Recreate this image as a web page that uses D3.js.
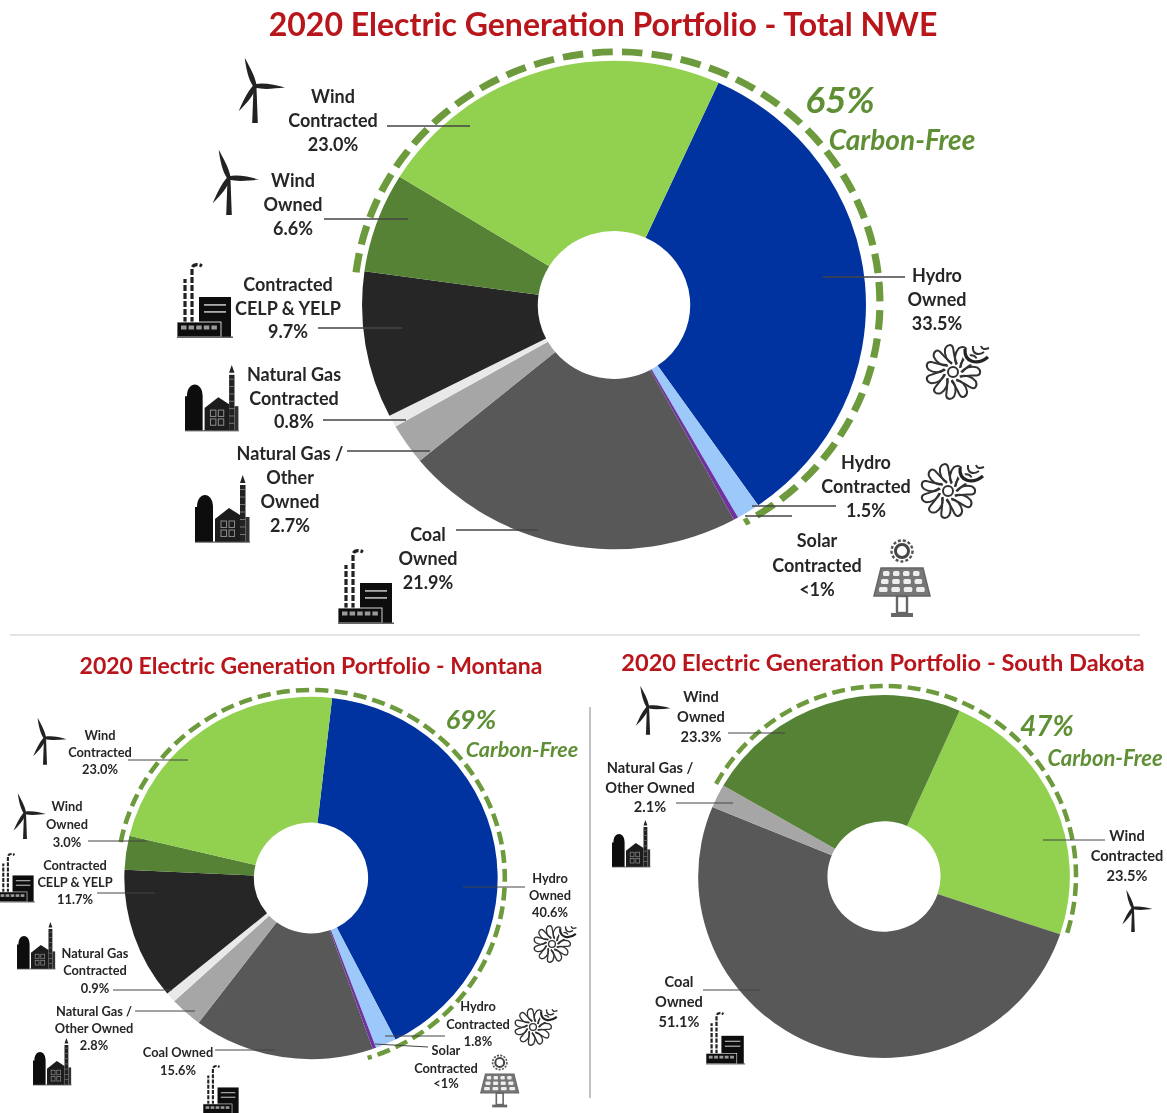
<!DOCTYPE html>
<html>
<head>
<meta charset="utf-8">
<script src="https://cdn.jsdelivr.net/npm/d3@7"></script>
<style>
  html, body { margin: 0; padding: 0; background: #fff; }
  svg { display: block; }
  text { font-family: Lato, "Open Sans", sans-serif; font-weight: 700; }
</style>
</head>
<body>
<div id="chart"></div>
<script>
// Slice values, in percent, clockwise from the top right of each donut
var nweNames = ["Hydro Owned", "Hydro Contracted", "Solar Contracted", "Coal Owned", "Natural Gas / Other Owned", "Natural Gas Contracted", "Contracted CELP & YELP", "Wind Owned", "Wind Contracted"];
var nweValues = [33.5, 1.5, 0.3, 21.9, 2.7, 0.8, 9.7, 6.6, 23.0];
var nweColors = ["#0033a0", "#9dc8fa", "#7030a0", "#595959", "#a6a6a6", "#e9e9e9", "#262626", "#548235", "#92d050"];

var montanaNames = ["Hydro Owned", "Hydro Contracted", "Solar Contracted", "Coal Owned", "Natural Gas / Other Owned", "Natural Gas Contracted", "Contracted CELP & YELP", "Wind Owned", "Wind Contracted"];
var montanaValues = [40.6, 1.8, 0.3, 15.6, 2.8, 0.9, 11.7, 3.0, 23.0];
var montanaColors = nweColors;

var dakotaNames = ["Wind Contracted", "Coal Owned", "Natural Gas / Other Owned", "Wind Owned"];
var dakotaValues = [23.5, 51.1, 2.1, 23.3];
var dakotaColors = ["#92d050", "#595959", "#a6a6a6", "#548235"];

var titles = ["2020 Electric Generation Portfolio - Total NWE", "2020 Electric Generation Portfolio - Montana", "2020 Electric Generation Portfolio - South Dakota"];
var carbonFree = ["65%", "69%", "47%"];

var svgWidth = 1167;
var svgHeight = 1113;
var red = "#b9141c";
var green = "#5f8f35";
var ink = "#262626";

var svg = d3.select("#chart").append("svg")
    .attr("width", svgWidth)
    .attr("height", svgHeight);

// The source is a soft, slightly blurred scan
var defs = svg.append("defs");
defs.append("filter").attr("id", "soft")
    .attr("x", "-5%").attr("y", "-5%").attr("width", "110%").attr("height", "110%")
    .append("feGaussianBlur").attr("stdDeviation", 0.55);

var root = svg.append("g").attr("filter", "url(#soft)");
root.append("rect").attr("width", svgWidth).attr("height", svgHeight).attr("fill", "#fff");

// Draws one donut with its dashed carbon-free ring
function drawDonut(opt) {
    var pie = d3.pie().sort(null)
        .startAngle(opt.start * Math.PI / 180)
        .endAngle((opt.start + 360) * Math.PI / 180);
    var arc = d3.arc().innerRadius(opt.inner).outerRadius(opt.r);

    var g = root.append("g")
        .attr("transform", "translate(" + opt.cx + "," + opt.cy + ") scale(" + opt.sx + "," + opt.sy + ")");

    g.selectAll("path.slice")
        .data(pie(opt.values))
        .enter()
        .append("path")
        .attr("class", "slice")
        .attr("d", arc)
        .attr("fill", function(d, i) { return opt.colors[i]; });

    // open arc, so the dash pattern is not drawn twice
    var ring = d3.path();
    ring.arc(0, 0, opt.ringR, (opt.ringFrom - 90) * Math.PI / 180, (opt.ringTo - 90) * Math.PI / 180);

    root.append("path")
        .attr("transform", "translate(" + opt.ringCx + "," + opt.ringCy + ") scale(" + opt.ringSx + "," + opt.ringSy + ")")
        .attr("d", ring.toString())
        .attr("fill", "none")
        .attr("stroke", "#6d9a3c")
        .attr("stroke-width", opt.ringWidth)
        .attr("stroke-dasharray", opt.dash);
}

function drawText(t, x, y, size, fill, italic) {
    root.append("text")
        .attr("x", x)
        .attr("y", y)
        .attr("text-anchor", "middle")
        .attr("dominant-baseline", "central")
        .attr("font-size", size)
        .attr("font-style", italic ? "italic" : "normal")
        .attr("fill", fill)
        .text(t);
}

// Multi line, centred label with a thin leader line
function drawLabel(l, size) {
    l.lines.forEach(function(t, i) {
        drawText(t, l.x, l.ys[i], size, ink, false);
    });
    root.append("line")
        .attr("x1", l.lead[0]).attr("y1", l.lead[1])
        .attr("x2", l.lead[2]).attr("y2", l.lead[3])
        .attr("stroke", "#444")
        .attr("stroke-width", size > 15 ? 1.3 : 1);
}

// ---- icons, all drawn around a local origin and scaled into place ----
function iconWind(x, y, k) {
    var g = root.append("g").attr("transform", "translate(" + x + "," + y + ") scale(" + k + ")").attr("fill", "#222");
    g.append("path").attr("d", "M-1.5,2 L1.5,2 L2.8,37 L-2.8,37 Z");
    [-20, 93, 213].forEach(function(a) {
        g.append("path")
            .attr("transform", "rotate(" + a + ")")
            .attr("d", "M-1.8,0 C-4,-8 -2.4,-20 0,-30 C1.4,-20 3.4,-10 1.8,0 Z");
    });
}

function iconFactory(x, y, k) {
    var g = root.append("g").attr("transform", "translate(" + x + "," + y + ") scale(" + k + ")");
    g.append("path").attr("d", "M8,60 V16 M15,60 V6 C15,2 20,0 25,3")
        .attr("fill", "none").attr("stroke", "#222").attr("stroke-width", 3.2).attr("stroke-dasharray", "6 2");
    g.append("rect").attr("x", 22).attr("y", 34).attr("width", 32).attr("height", 40).attr("fill", "#111");
    g.append("rect").attr("x", 0).attr("y", 59).attr("width", 44).attr("height", 15).attr("fill", "#111").attr("stroke", "#fff").attr("stroke-width", 0.8);
    d3.range(5).forEach(function(i) {
        g.append("rect").attr("x", 4 + i * 7.6).attr("y", 62.5).attr("width", 5.5).attr("height", 4).attr("fill", "#999");
    });
    [41, 48].forEach(function(yy) {
        g.append("rect").attr("x", 27).attr("y", yy).attr("width", 22).attr("height", 1.8).attr("fill", "#aaa");
    });
    g.append("rect").attr("x", 0).attr("y", 73.5).attr("width", 56).attr("height", 1.4).attr("fill", "#555");
}

function iconGas(x, y, k) {
    var g = root.append("g").attr("transform", "translate(" + x + "," + y + ") scale(" + k + ")");
    g.append("path").attr("d", "M0,67 V32 H2 C2,16 18,16 18,32 V67 Z").attr("fill", "#0c0c0c");
    g.append("path").attr("d", "M20,67 V44 L34,33 L45,40 V67 Z").attr("fill", "#1a1a1a");
    d3.range(2).forEach(function(r) {
        d3.range(2).forEach(function(c) {
            g.append("rect").attr("x", 26 + c * 8).attr("y", 46 + r * 9).attr("width", 5.5).attr("height", 6.5)
                .attr("fill", "none").attr("stroke", "#888").attr("stroke-width", 1.1);
        });
    });
    g.append("rect").attr("x", 45).attr("y", 10).attr("width", 5.5).attr("height", 57).attr("fill", "#222");
    g.append("rect").attr("x", 50.5).attr("y", 42).attr("width", 4).attr("height", 25).attr("fill", "#333");
    d3.range(7).forEach(function(i) {
        g.append("rect").attr("x", 45).attr("y", 14 + i * 7.5).attr("width", 5.5).attr("height", 1).attr("fill", "#777");
    });
    g.append("path").attr("d", "M47.7,0 L50.5,8 H45 Z").attr("fill", "#222");
    g.append("rect").attr("x", 0).attr("y", 66.5).attr("width", 55).attr("height", 1.2).attr("fill", "#555");
}

function iconHydro(x, y, k) {
    var g = root.append("g").attr("transform", "translate(" + x + "," + y + ") scale(" + k + ")")
        .attr("fill", "none").attr("stroke", "#333").attr("stroke-width", 2);
    g.append("circle").attr("r", 5);
    d3.range(11).forEach(function(i) {
        g.append("path")
            .attr("transform", "rotate(" + i * 360 / 11 + ")")
            .attr("d", "M-1,-8 C-6,-11 -9,-17 -8,-23 C-6,-28 -1,-28 0,-24 C1,-20 1,-14 4,-8");
    });
    g.append("path").attr("d", "M12,-23 C11,-10 24,-6 35,-15").attr("stroke", "#fff").attr("stroke-width", 7);
    g.append("path").attr("d", "M12,-23 C11,-10 24,-6 35,-15").attr("stroke-width", 3.2).attr("stroke", "#222");
    g.append("path").attr("d", "M20,-26 C19,-18 25,-16 31,-20 M28,-26 C29,-23 31,-22 36,-24").attr("stroke-width", 2);
}

function iconSolar(x, y, k) {
    var g = root.append("g").attr("transform", "translate(" + x + "," + y + ") scale(" + k + ")");
    g.append("circle").attr("cx", 29).attr("cy", 11).attr("r", 6.5).attr("fill", "none").attr("stroke", "#444").attr("stroke-width", 3);
    g.append("circle").attr("cx", 29).attr("cy", 11).attr("r", 10.5).attr("fill", "none").attr("stroke", "#555").attr("stroke-width", 2.4).attr("stroke-dasharray", "3 2");
    g.append("path").attr("d", "M8,28 H50 L57,56 H1 Z").attr("fill", "#777").attr("stroke", "#666").attr("stroke-width", 1.5);
    d3.range(3).forEach(function(r) {
        d3.range(4).forEach(function(c) {
            g.append("rect").attr("x", 10 - r * 2 + c * (10 + r * 1.2)).attr("y", 31 + r * 8).attr("width", 6.5 + r).attr("height", 5)
                .attr("fill", "#eee").attr("rx", 1.5);
        });
    });
    g.append("rect").attr("x", 24).attr("y", 56).attr("width", 10).attr("height", 17).attr("fill", "none").attr("stroke", "#666").attr("stroke-width", 2.4);
    g.append("rect").attr("x", 18).attr("y", 73).attr("width", 22).attr("height", 4).attr("fill", "#666");
}

// ---- Total NWE ----
drawDonut({ cx: 614, cy: 305, r: 248, inner: 75, sx: 1.016, sy: 0.985, start: 24.5, values: nweValues, colors: nweColors,
    ringCx: 617, ringCy: 303, ringR: 257, ringSx: 1.023, ringSy: 0.977, ringFrom: -83, ringTo: 151, ringWidth: 7, dash: "20 9" });

drawText(titles[0], 603, 23, 32, red, false);
drawText(carbonFree[0], 840, 98, 37, green, true);
drawText("Carbon-Free", 902, 139, 28, green, true);

var nweLabels = [
    { lines: ["Wind", "Contracted", "23.0%"], x: 333, ys: [96, 120, 144], lead: [387, 126, 470, 126] },
    { lines: ["Wind", "Owned", "6.6%"], x: 293, ys: [180, 204, 228], lead: [324, 219, 408, 219] },
    { lines: ["Contracted", "CELP & YELP", "9.7%"], x: 288, ys: [284, 308, 331], lead: [318, 328, 402, 328] },
    { lines: ["Natural Gas", "Contracted", "0.8%"], x: 294, ys: [374, 398, 421], lead: [323, 420, 406, 420] },
    { lines: ["Natural Gas /", "Other", "Owned", "2.7%"], x: 290, ys: [453, 477, 501, 525], lead: [347, 451, 430, 451] },
    { lines: ["Coal", "Owned", "21.9%"], x: 428, ys: [534, 558, 582], lead: [456, 530, 538, 530] },
    { lines: ["Hydro", "Owned", "33.5%"], x: 937, ys: [275, 299, 323], lead: [823, 277, 905, 277] },
    { lines: ["Hydro", "Contracted", "1.5%"], x: 866, ys: [462, 486, 510], lead: [752, 506, 836, 506] },
    { lines: ["Solar", "Contracted", "<1%"], x: 817, ys: [540, 565, 589], lead: [745, 516, 792, 516] }
];
nweLabels.forEach(function(l) { drawLabel(l, 18); });

iconWind(255, 86, 1);
iconWind(229, 178, 1);
iconFactory(177, 263, 1);
iconGas(185, 365, 0.98);
iconGas(195, 475, 1);
iconFactory(338, 549, 1);
iconHydro(953, 372, 1);
iconHydro(948, 491, 1);
iconSolar(873, 540, 1);

// ---- Montana ----
drawDonut({ cx: 311, cy: 878, r: 183, inner: 56, sx: 1.02, sy: 0.99, start: 6.5, values: montanaValues, colors: montanaColors,
    ringCx: 311, ringCy: 878, ringR: 190, ringSx: 1.02, ringSy: 0.99, ringFrom: -79, ringTo: 163, ringWidth: 4.5, dash: "13 6" });

drawText(titles[1], 311, 665, 23, red, false);
drawText(carbonFree[1], 471, 718, 27, green, true);
drawText("Carbon-Free", 522, 749, 21.5, green, true);

var montanaLabels = [
    { lines: ["Wind", "Contracted", "23.0%"], x: 100, ys: [735, 752, 769], lead: [128, 760, 188, 760] },
    { lines: ["Wind", "Owned", "3.0%"], x: 67, ys: [806, 824, 842], lead: [88, 841, 146, 841] },
    { lines: ["Contracted", "CELP & YELP", "11.7%"], x: 75, ys: [865, 882, 899], lead: [97, 893, 155, 893] },
    { lines: ["Natural Gas", "Contracted", "0.9%"], x: 95, ys: [953, 970, 988], lead: [113, 990, 172, 990] },
    { lines: ["Natural Gas /", "Other Owned", "2.8%"], x: 94, ys: [1011, 1028, 1045], lead: [135, 1011, 195, 1011] },
    { lines: ["Coal Owned", "15.6%"], x: 178, ys: [1052, 1070], lead: [215, 1050, 275, 1050] },
    { lines: ["Hydro", "Owned", "40.6%"], x: 550, ys: [878, 895, 912], lead: [463, 887, 525, 887] },
    { lines: ["Hydro", "Contracted", "1.8%"], x: 478, ys: [1006, 1024, 1041], lead: [385, 1036, 445, 1036] },
    { lines: ["Solar", "Contracted", "<1%"], x: 446, ys: [1050, 1068, 1083], lead: [375, 1044, 428, 1047] }
];
montanaLabels.forEach(function(l) { drawLabel(l, 12.8); });

iconWind(45, 738, 0.72);
iconWind(25, 813, 0.7);
iconFactory(-2, 853, 0.66);
iconGas(17, 922, 0.7);
iconGas(33, 1038, 0.7);
iconFactory(203, 1065, 0.66);
iconHydro(552, 944, 0.68);
iconHydro(533, 1027, 0.68);
iconSolar(480, 1055, 0.68);

// ---- South Dakota ----
drawDonut({ cx: 884, cy: 876.5, r: 184, inner: 56, sx: 1.01, sy: 0.986, start: 24, values: dakotaValues, colors: dakotaColors,
    ringCx: 884, ringCy: 876, ringR: 192, ringSx: 1, ringSy: 0.99, ringFrom: -61, ringTo: 109, ringWidth: 4.5, dash: "13 6" });

drawText(titles[2], 883, 662, 23.6, red, false);
drawText(carbonFree[2], 1047, 725, 28, green, true);
drawText("Carbon-Free", 1105, 757, 22, green, true);

var dakotaLabels = [
    { lines: ["Wind", "Owned", "23.3%"], x: 701, ys: [696, 716, 736], lead: [728, 733, 785, 733] },
    { lines: ["Natural Gas /", "Other Owned", "2.1%"], x: 650, ys: [767, 787, 806], lead: [676, 803, 733, 803] },
    { lines: ["Coal", "Owned", "51.1%"], x: 679, ys: [981, 1001, 1021], lead: [703, 990, 760, 990] },
    { lines: ["Wind", "Contracted", "23.5%"], x: 1127, ys: [835, 855, 875], lead: [1043, 840, 1105, 840] }
];
dakotaLabels.forEach(function(l) { drawLabel(l, 14.6); });

iconWind(648, 707, 0.75);
iconGas(612, 820, 0.7);
iconFactory(706, 1012, 0.7);
iconWind(1133, 908, 0.65);

// Panel separators
root.append("line").attr("x1", 10).attr("y1", 635).attr("x2", 1140).attr("y2", 635).attr("stroke", "#c9c9c9").attr("stroke-width", 1.2);
root.append("line").attr("x1", 590).attr("y1", 707).attr("x2", 590).attr("y2", 1098).attr("stroke", "#9a9a9a").attr("stroke-width", 1.2);
</script>
</body>
</html>
